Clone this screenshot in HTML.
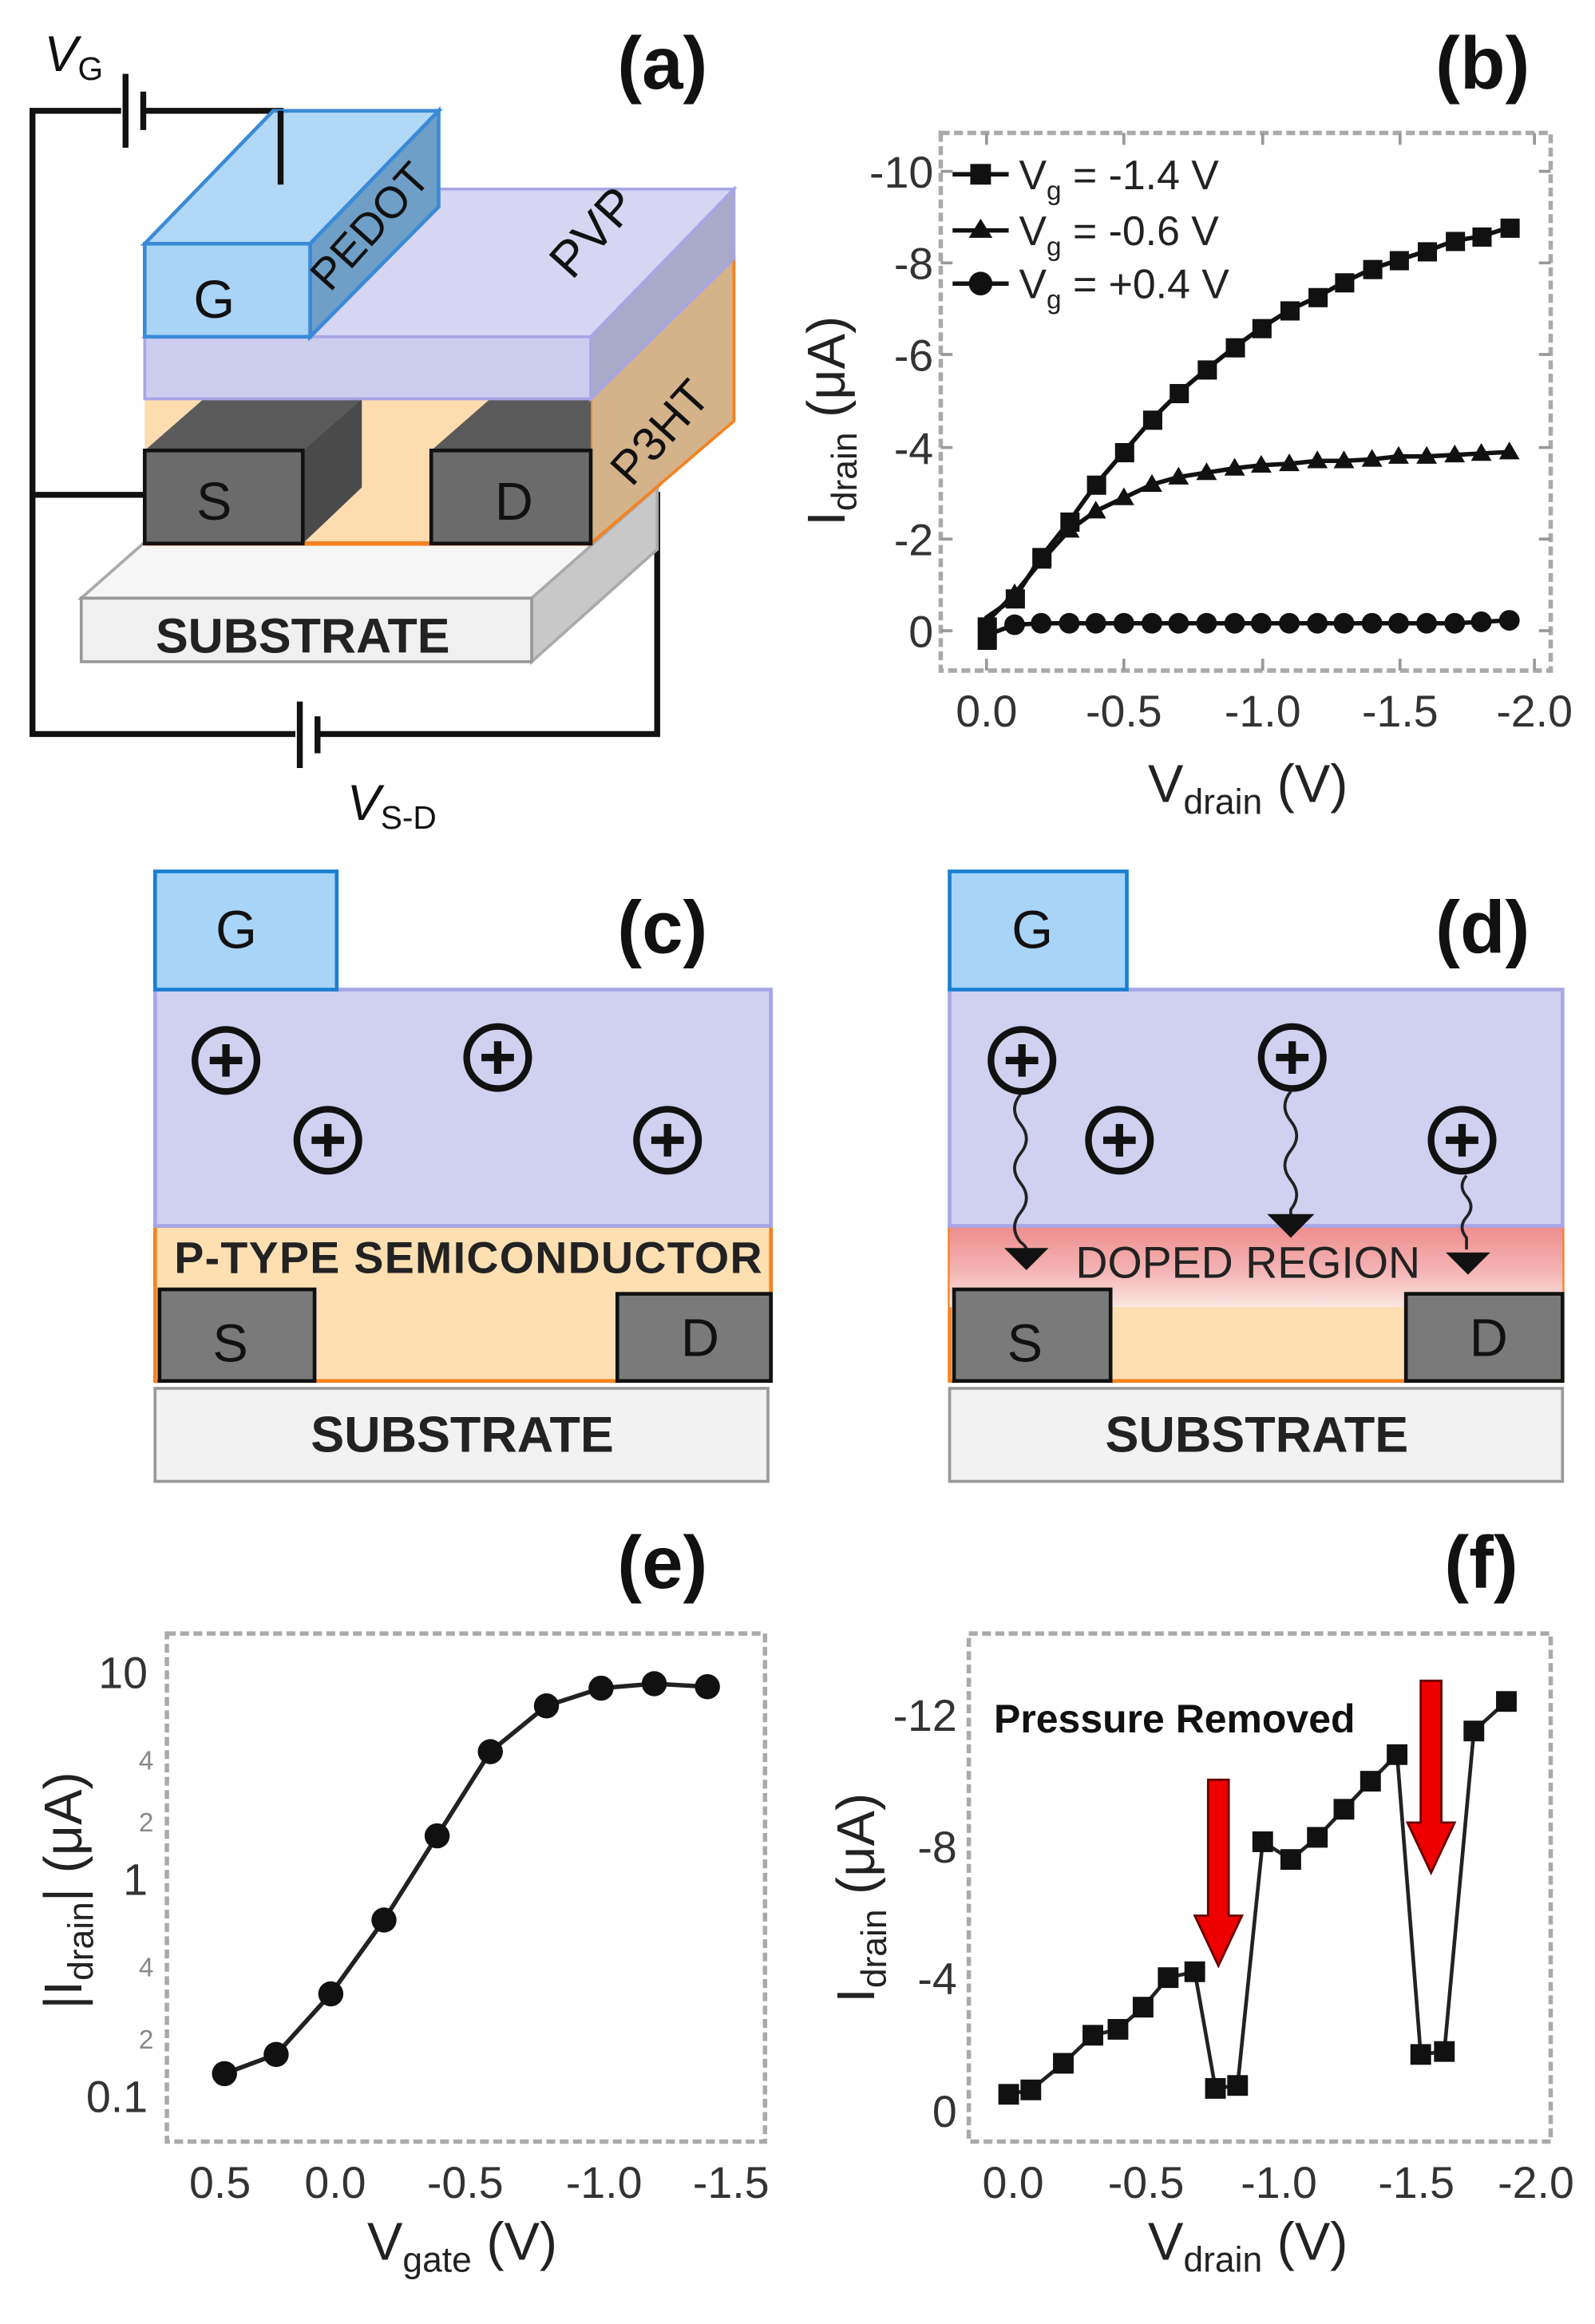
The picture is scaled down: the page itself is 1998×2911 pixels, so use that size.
<!DOCTYPE html>
<html><head><meta charset="utf-8"><style>html,body{margin:0;padding:0;background:#fff}svg{display:block}</style></head>
<body>
<svg width="1998" height="2911" viewBox="0 0 1080 1573.5" xmlns="http://www.w3.org/2000/svg" font-family="'Liberation Sans Narrow','Liberation Sans',sans-serif">
<defs>
<linearGradient id="dop" x1="0" y1="0" x2="0" y2="1">
<stop offset="0" stop-color="#ee8c8c"/><stop offset="0.55" stop-color="#f4b4b4"/><stop offset="1" stop-color="#fbe6e0"/>
</linearGradient>
<g id="plus"><circle r="21" fill="none" stroke="#111" stroke-width="4.5"/><path d="M-11 0H11M0 -11V11" stroke="#111" stroke-width="5"/></g>
</defs>
<g font-family="'Liberation Sans',sans-serif" font-size="50" fill="#111">
<text x="418" y="60" font-weight="bold">(a)</text>
<text x="972" y="60" font-weight="bold">(b)</text>
<text x="418" y="645" font-weight="bold">(c)</text>
<text x="972" y="645" font-weight="bold">(d)</text>
<text x="418" y="1075" font-weight="bold">(e)</text>
<text x="978" y="1075" font-weight="bold">(f)</text>
</g>

<!-- Panel a -->
<g stroke="#111" stroke-width="4" fill="none">
<path d="M82 75H22V497H200M215 497H445V335H400M22 335H100M97 75H190V125"/>
<path d="M85 50V100M97 62V88" />
<path d="M203 475V520M215 485V510"/>
</g>
<text x="30" y="48" font-size="34" font-style="italic" fill="#111" font-family="'Liberation Sans',sans-serif">V<tspan font-size="22" dy="6" font-style="normal">G</tspan></text>
<text x="235" y="555" font-size="34" font-style="italic" fill="#111" font-family="'Liberation Sans',sans-serif">V<tspan font-size="22" dy="6" font-style="normal">S-D</tspan></text>
<polygon points="55,405 360,405 445,330 140,330" fill="#f6f6f6" stroke="#aaa" stroke-width="2"/>
<polygon points="360,405 445,330 445,372 360,448" fill="#c8c8c8" stroke="#aaa" stroke-width="2"/>
<rect x="55" y="405" width="305" height="43" fill="#f0f0f0" stroke="#999" stroke-width="2"/>
<text x="205" y="442" text-anchor="middle" font-size="33" font-weight="bold" fill="#222">SUBSTRATE</text>
<polygon points="400,270 497,175 497,285 400,368" fill="#d4b38a" stroke="#f58220" stroke-width="2"/>
<rect x="98" y="270" width="302" height="98" fill="#fddcb0"/>
<line x1="98" y1="368" x2="400" y2="368" stroke="#f58220" stroke-width="3"/>
<polygon points="98,305 205,305 245,270 138,270" fill="#5a5a5a"/>
<polygon points="205,305 245,270 245,330 205,368" fill="#4a4a4a"/>
<rect x="98" y="305" width="107" height="63" fill="#6b6b6b" stroke="#111" stroke-width="2.5"/>
<polygon points="292,305 400,305 400,270 332,270" fill="#5a5a5a"/>
<rect x="292" y="305" width="108" height="63" fill="#6b6b6b" stroke="#111" stroke-width="2.5"/>
<text x="145" y="352" font-size="36" text-anchor="middle" fill="#111">S</text>
<text x="348" y="352" font-size="36" text-anchor="middle" fill="#111">D</text>
<text x="455" y="300" font-size="32" fill="#111" transform="rotate(-48 455 300)" text-anchor="middle">P3HT</text>
<polygon points="98,228 400,228 497,128 195,128" fill="#d6d6f3" stroke="#a6a6e6" stroke-width="2"/>
<polygon points="400,228 497,128 497,175 400,270" fill="#a9a9c9" stroke="#a6a6e6" stroke-width="2"/>
<rect x="98" y="228" width="302" height="42" fill="#cdcdf0" stroke="#a6a6e6" stroke-width="2"/>
<text x="410" y="165" font-size="34" fill="#111" transform="rotate(-48 410 165)" text-anchor="middle">PVP</text>
<polygon points="98,165 210,165 297,75 185,75" fill="#b2d8f7" stroke="#3a8ad8" stroke-width="2.5"/>
<polygon points="210,165 297,75 297,140 210,228" fill="#6f9fc6" stroke="#3a8ad8" stroke-width="2.5"/>
<rect x="98" y="165" width="112" height="63" fill="#a9d4f5" stroke="#3a8ad8" stroke-width="2.5"/>
<text x="145" y="215" font-size="36" text-anchor="middle" fill="#111">G</text>
<text x="258" y="160" font-size="30" fill="#111" transform="rotate(-48 258 160)" text-anchor="middle">PEDOT</text>
<line x1="190" y1="75" x2="190" y2="125" stroke="#111" stroke-width="4"/>

<!-- Panel b -->
<rect x="637" y="90" width="413" height="364" fill="none" stroke="#aaa" stroke-width="3" stroke-dasharray="6 3"/>
<g stroke="#999" stroke-width="2">
<path d="M668 90v8M761 90v8M855 90v8M948 90v8M1039 90v8M668 454v-8M761 454v-8M855 454v-8M948 454v-8M1039 454v-8"/>
<path d="M637 116h8M637 178h8M637 240h8M637 303h8M637 365h8M637 427h8M1050 116h-8M1050 178h-8M1050 240h-8M1050 303h-8M1050 365h-8M1050 427h-8"/>
</g>
<g font-size="30" fill="#333" text-anchor="middle">
<text x="668" y="492">0.0</text><text x="761" y="492">-0.5</text><text x="855" y="492">-1.0</text><text x="948" y="492">-1.5</text><text x="1039" y="492">-2.0</text>
</g>
<g font-size="30" fill="#333" text-anchor="end">
<text x="632" y="127">-10</text><text x="632" y="189">-8</text><text x="632" y="251">-6</text><text x="632" y="314">-4</text><text x="632" y="376">-2</text><text x="632" y="438">0</text>
</g>
<text x="845" y="543" font-size="36" fill="#222" text-anchor="middle">V<tspan font-size="24" dy="8">drain</tspan><tspan dy="-8"> (V)</tspan></text>
<text transform="translate(572 285) rotate(-90)" font-size="36" fill="#222" text-anchor="middle">I<tspan font-size="24" dy="8">drain</tspan><tspan dy="-8"> (μA)</tspan></text>
<g fill="none" stroke="#111" stroke-width="3">
<polyline points="668,436 668,418 687,405 705,377 724,353 742,328 761,306 780,284 798,266 817,250 836,235 854,222 873,210 892,201 910,191 929,182 947,176 966,170 985,163 1003,160 1022,154"/>
<polyline points="668,421 687,402 705,380 724,359 742,346 761,337 780,328 798,323 817,320 836,317 854,315 873,314 892,312 910,312 929,311 947,309 966,309 985,308 1003,307 1022,306"/>
<polyline points="668,440 668,430 687,423 705,422 724,422 742,422 761,422 780,422 798,422 817,422 836,422 854,422 873,422 892,422 910,422 929,422 947,422 966,422 985,422 1003,421 1022,420"/>
</g>
<g fill="#111">
<rect x="662" y="418" width="13" height="22"/>
<rect x="681" y="399" width="13" height="13"/><rect x="699" y="371" width="13" height="13"/><rect x="718" y="347" width="13" height="13"/><rect x="736" y="322" width="13" height="13"/><rect x="755" y="300" width="13" height="13"/><rect x="774" y="278" width="13" height="13"/><rect x="792" y="260" width="13" height="13"/><rect x="811" y="244" width="13" height="13"/><rect x="830" y="229" width="13" height="13"/><rect x="848" y="216" width="13" height="13"/><rect x="867" y="204" width="13" height="13"/><rect x="886" y="195" width="13" height="13"/><rect x="904" y="185" width="13" height="13"/><rect x="923" y="176" width="13" height="13"/><rect x="941" y="170" width="13" height="13"/><rect x="960" y="164" width="13" height="13"/><rect x="979" y="157" width="13" height="13"/><rect x="997" y="154" width="13" height="13"/><rect x="1016" y="148" width="13" height="13"/>
<path d="M687 395l7 12h-14z M705 373l7 12h-14z M724 352l7 12h-14z M742 339l7 12h-14z M761 330l7 12h-14z M780 321l7 12h-14z M798 316l7 12h-14z M817 313l7 12h-14z M836 310l7 12h-14z M854 308l7 12h-14z M873 307l7 12h-14z M892 305l7 12h-14z M910 305l7 12h-14z M929 304l7 12h-14z M947 302l7 12h-14z M966 302l7 12h-14z M985 301l7 12h-14z M1003 300l7 12h-14z M1022 299l7 12h-14z"/>
<circle cx="687" cy="423" r="7"/><circle cx="705" cy="422" r="7"/><circle cx="724" cy="422" r="7"/><circle cx="742" cy="422" r="7"/><circle cx="761" cy="422" r="7"/><circle cx="780" cy="422" r="7"/><circle cx="798" cy="422" r="7"/><circle cx="817" cy="422" r="7"/><circle cx="836" cy="422" r="7"/><circle cx="854" cy="422" r="7"/><circle cx="873" cy="422" r="7"/><circle cx="892" cy="422" r="7"/><circle cx="910" cy="422" r="7"/><circle cx="929" cy="422" r="7"/><circle cx="947" cy="422" r="7"/><circle cx="966" cy="422" r="7"/><circle cx="985" cy="422" r="7"/><circle cx="1003" cy="421" r="7"/><circle cx="1022" cy="420" r="7"/>
</g>
<g stroke="#111" stroke-width="3"><path d="M645 118h38M645 156h38M645 192h38"/></g>
<g fill="#111"><rect x="657" y="111" width="14" height="14"/><path d="M664 148l8 13h-16z"/><circle cx="664" cy="192" r="8"/></g>
<g font-size="28" fill="#222">
<text x="690" y="128">V<tspan font-size="18" dy="7">g</tspan><tspan dy="-7"> = -1.4 V</tspan></text>
<text x="690" y="166">V<tspan font-size="18" dy="7">g</tspan><tspan dy="-7"> = -0.6 V</tspan></text>
<text x="690" y="202">V<tspan font-size="18" dy="7">g</tspan><tspan dy="-7"> = +0.4 V</tspan></text>
</g>

<!-- Panel c -->
<rect x="105" y="940" width="415" height="63" fill="#f2f2f2" stroke="#999" stroke-width="2"/>
<text x="313" y="983" font-size="34" font-weight="bold" text-anchor="middle" fill="#222">SUBSTRATE</text>
<rect x="105" y="830" width="417" height="105" fill="#fddfb2" stroke="#f58220" stroke-width="2.5"/>
<rect x="105" y="670" width="417" height="160" fill="#d0d0f0" stroke="#a6a6e6" stroke-width="2.5"/>
<rect x="105" y="590" width="123" height="80" fill="#a8d4f8" stroke="#1a7fd0" stroke-width="2.5"/>
<text x="160" y="642" font-size="36" text-anchor="middle" fill="#111">G</text>
<rect x="108" y="873" width="105" height="62" fill="#7a7a7a" stroke="#111" stroke-width="2.5"/>
<rect x="418" y="876" width="104" height="59" fill="#7a7a7a" stroke="#111" stroke-width="2.5"/>
<text x="156" y="922" font-size="36" text-anchor="middle" fill="#111">S</text>
<text x="474" y="918" font-size="36" text-anchor="middle" fill="#111">D</text>
<text x="118" y="862" font-size="30" font-weight="bold" fill="#222" textLength="398">P-TYPE  SEMICONDUCTOR</text>
<use href="#plus" x="153" y="718"/><use href="#plus" x="222" y="772"/><use href="#plus" x="337" y="716"/><use href="#plus" x="452" y="772"/>

<!-- Panel d -->
<rect x="643" y="940" width="415" height="63" fill="#f2f2f2" stroke="#999" stroke-width="2"/>
<text x="851" y="983" font-size="34" font-weight="bold" text-anchor="middle" fill="#222">SUBSTRATE</text>
<rect x="643" y="830" width="415" height="105" fill="#fddfb2" stroke="#f58220" stroke-width="2.5"/>
<rect x="643" y="830" width="415" height="55" fill="url(#dop)"/>
<rect x="643" y="670" width="415" height="160" fill="#d0d0f0" stroke="#a6a6e6" stroke-width="2.5"/>
<rect x="643" y="590" width="120" height="80" fill="#a8d4f8" stroke="#1a7fd0" stroke-width="2.5"/>
<text x="699" y="642" font-size="36" text-anchor="middle" fill="#111">G</text>
<rect x="646" y="873" width="106" height="62" fill="#7a7a7a" stroke="#111" stroke-width="2.5"/>
<rect x="952" y="876" width="106" height="59" fill="#7a7a7a" stroke="#111" stroke-width="2.5"/>
<text x="694" y="922" font-size="36" text-anchor="middle" fill="#111">S</text>
<text x="1008" y="918" font-size="36" text-anchor="middle" fill="#111">D</text>
<text x="845" y="865" font-size="30" fill="#222" text-anchor="middle">DOPED REGION</text>
<use href="#plus" x="692" y="718"/><use href="#plus" x="758" y="772"/><use href="#plus" x="875" y="716"/><use href="#plus" x="990" y="772"/>
<g fill="none" stroke="#222" stroke-width="2">
<path d="M691 741q-8 10 0 20q8 10 0 20q-8 10 0 20q8 10 0 20q-8 10 0 20q6 4 4 10"/>
<path d="M874 739q-8 10 0 20q8 10 0 20q-8 10 0 20q8 10 0 20v8"/>
<path d="M993 796q-6 7 0 14q6 7 0 14q-6 7 0 14v8"/>
</g>
<g fill="#111"><path d="M680 845h30l-15 15z M858 822h32l-16 16z M979 848h30l-15 15z"/></g>

<!-- Panel e -->
<rect x="113" y="1106" width="405" height="344" fill="none" stroke="#aaa" stroke-width="3" stroke-dasharray="6 3"/>
<g font-size="30" fill="#333" text-anchor="middle">
<text x="149" y="1488">0.5</text><text x="227" y="1488">0.0</text><text x="315" y="1488">-0.5</text><text x="409" y="1488">-1.0</text><text x="495" y="1488">-1.5</text>
</g>
<g font-size="30" fill="#333" text-anchor="end">
<text x="100" y="1143">10</text><text x="100" y="1283">1</text><text x="100" y="1430">0.1</text>
</g>
<g font-size="18" fill="#888" text-anchor="end">
<text x="104" y="1198">4</text><text x="104" y="1240">2</text><text x="104" y="1338">4</text><text x="104" y="1387">2</text>
</g>
<text x="313" y="1530" font-size="36" fill="#222" text-anchor="middle">V<tspan font-size="24" dy="8">gate</tspan><tspan dy="-8"> (V)</tspan></text>
<text transform="translate(55 1280) rotate(-90)" font-size="36" fill="#222" text-anchor="middle">|I<tspan font-size="24" dy="8">drain</tspan><tspan dy="-8">| (μA)</tspan></text>
<polyline points="152,1404 187,1391 224,1350 260,1300 296,1243 332,1186 370,1155 407,1143 443,1140 479,1142" fill="none" stroke="#222" stroke-width="3"/>
<g fill="#111">
<circle cx="152" cy="1404" r="8.5"/><circle cx="187" cy="1391" r="8.5"/><circle cx="224" cy="1350" r="8.5"/><circle cx="260" cy="1300" r="8.5"/><circle cx="296" cy="1243" r="8.5"/><circle cx="332" cy="1186" r="8.5"/><circle cx="370" cy="1155" r="8.5"/><circle cx="407" cy="1143" r="8.5"/><circle cx="443" cy="1140" r="8.5"/><circle cx="479" cy="1142" r="8.5"/>
</g>

<!-- Panel f -->
<rect x="656" y="1106" width="394" height="344" fill="none" stroke="#aaa" stroke-width="3" stroke-dasharray="6 3"/>
<g font-size="30" fill="#333" text-anchor="middle">
<text x="686" y="1488">0.0</text><text x="776" y="1488">-0.5</text><text x="866" y="1488">-1.0</text><text x="959" y="1488">-1.5</text><text x="1040" y="1488">-2.0</text>
</g>
<g font-size="30" fill="#333" text-anchor="end">
<text x="648" y="1172">-12</text><text x="648" y="1261">-8</text><text x="648" y="1350">-4</text><text x="648" y="1440">0</text>
</g>
<text x="845" y="1530" font-size="36" fill="#222" text-anchor="middle">V<tspan font-size="24" dy="8">drain</tspan><tspan dy="-8"> (V)</tspan></text>
<text transform="translate(592 1285) rotate(-90)" font-size="36" fill="#222" text-anchor="middle">I<tspan font-size="24" dy="8">drain</tspan><tspan dy="-8"> (μA)</tspan></text>
<polyline points="683,1418 698,1415 720,1397 740,1378 757,1374 774,1359 791,1339 809,1335 823,1414 838,1412 855,1247 874,1259 892,1244 910,1225 928,1206 946,1188 962,1391 978,1389 998,1172 1020,1152" fill="none" stroke="#222" stroke-width="2.5"/>
<g fill="#111">
<rect x="676" y="1411" width="14" height="14"/><rect x="691" y="1408" width="14" height="14"/><rect x="713" y="1390" width="14" height="14"/><rect x="733" y="1371" width="14" height="14"/><rect x="750" y="1367" width="14" height="14"/><rect x="767" y="1352" width="14" height="14"/><rect x="784" y="1332" width="14" height="14"/><rect x="802" y="1328" width="14" height="14"/><rect x="816" y="1407" width="14" height="14"/><rect x="831" y="1405" width="14" height="14"/><rect x="848" y="1240" width="14" height="14"/><rect x="867" y="1252" width="14" height="14"/><rect x="885" y="1237" width="14" height="14"/><rect x="903" y="1218" width="14" height="14"/><rect x="921" y="1199" width="14" height="14"/><rect x="939" y="1181" width="14" height="14"/><rect x="955" y="1384" width="14" height="14"/><rect x="971" y="1382" width="14" height="14"/><rect x="991" y="1165" width="14" height="14"/><rect x="1013" y="1145" width="14" height="14"/>
</g>
<text x="673" y="1173" font-size="27" font-weight="bold" fill="#111">Pressure Removed</text>
<g fill="#e00" stroke="#600" stroke-width="1.5">
<path d="M818 1205h14v92h9l-16 34l-16-34h9z"/>
<path d="M962 1138h14v96h9l-16 34l-16-34h9z"/>
</g>
</svg>
</body></html>
